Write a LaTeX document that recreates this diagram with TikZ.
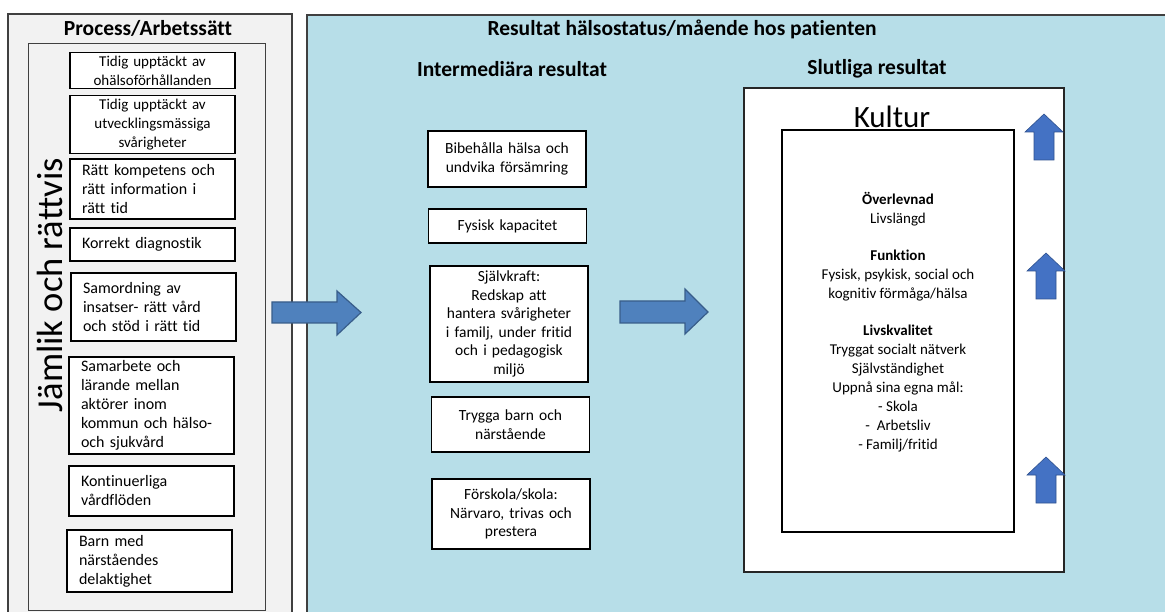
\documentclass[tikz,border=0pt]{standalone}
\usepackage{fontspec}
\setmainfont{Carlito}[Ligatures=NoCommon]
\usetikzlibrary{positioning}
\definecolor{panelgray}{HTML}{F2F2F2}
\definecolor{panelblue}{HTML}{B7DEE8}
\definecolor{arrowfill}{HTML}{4F81BD}
\definecolor{arrowline}{HTML}{385D8A}
\definecolor{upfill}{HTML}{4472C4}
\definecolor{upline}{HTML}{2F528F}
\tikzstyle{panel} = [draw=black!75, line width=1.3pt]
\tikzstyle{stepbox} = [rectangle, draw=black, line width=1.6pt, fill=white, minimum width=165pt, inner xsep=12pt, text width=141pt, align=left, font=\fontsize{16}{19}\selectfont]
\tikzstyle{midbox} = [rectangle, draw=black, line width=1.6pt, fill=white, minimum width=158pt, inner xsep=4pt, text width=150pt, align=center, font=\fontsize{15.5}{18.5}\selectfont]
\tikzstyle{heading} = [font=\bfseries\fontsize{21.5}{24}\selectfont]
\tikzstyle{bigarrow} = [fill=arrowfill, draw=arrowline, line width=1.2pt, line join=miter]
\tikzstyle{uparrow} = [fill=upfill, draw=upline, line width=0.6pt]
\begin{document}
\begin{tikzpicture}[x=1pt, y=-1pt]
\useasboundingbox (0,0) rectangle (1165,612);
\clip (0,0) rectangle (1165,612);

\draw [panel, fill=panelgray] (8,14) rectangle (292,640);
\draw [draw=black!75, line width=1pt, fill=panelgray] (28,44) rectangle (265,610);
\draw [panel, fill=panelblue] (307,15) rectangle (1190,640);

\node (proctitle) [heading] at (148,28) {Process/Arbetssätt};
\node (restitle) [heading] at (682,29) {Resultat hälsostatus/mående hos patienten};
\node (midtitle) [heading] at (512,69) {Intermediära resultat};
\node (endtitle) [heading] at (877,69) {Slutliga resultat};

\node (jamlik) [rotate=90, anchor=base, font=\fontsize{36.5}{40}\selectfont] at (62,285) {Jämlik och rättvis};

\node (early1) [stepbox, align=center, minimum height=35pt, font=\fontsize{15}{19}\selectfont] at (152.5,70.5) {Tidig upptäckt av\\ ohälsoförhållanden};
\node (early2) [stepbox, align=center, minimum height=53pt, font=\fontsize{15}{19}\selectfont] at (152.5,124.5) {Tidig upptäckt av\\ utvecklingsmässiga\\ svårigheter};
\node (skill) [stepbox, minimum height=60pt] at (152.5,189) {Rätt kompetens och\\ rätt information i\\ rätt tid};
\node (diag) [stepbox, minimum height=33pt] at (152.5,244.5) {Korrekt diagnostik};
\node (coord) [stepbox, minimum height=68pt] at (153.5,307) {Samordning av\\ insatser- rätt vård\\ och stöd i rätt tid};
\node (collab) [stepbox, minimum height=95pt] at (151.5,405.5) {Samarbete och\\ lärande mellan\\ aktörer inom\\ kommun och hälso-\\ och sjukvård};
\node (flow) [stepbox, minimum height=50pt] at (151.5,491) {Kontinuerliga\\ vårdflöden};
\node (family) [stepbox, minimum height=62pt] at (149.5,561) {Barn med\\ närståendes\\ delaktighet};

\node (health) [midbox, minimum height=56pt] at (507,159) {Bibehålla hälsa och\\ undvika försämring};
\node (physical) [midbox, minimum height=34pt] at (507.5,226) {Fysisk kapacitet};
\node (selfpower) [midbox, minimum height=116pt] at (509,324) {Självkraft:\\ Redskap att\\ hantera svårigheter\\ i familj, under fritid\\ och i pedagogisk\\ miljö};
\node (safe) [midbox, minimum height=55pt] at (510.5,424.5) {Trygga barn och\\ närstående};
\node (school) [midbox, minimum height=70pt] at (511,514) {Förskola/skola:\\ Närvaro, trivas och\\ prestera};

\node (culture) [rectangle, draw=black!85, line width=1.3pt, fill=white, minimum width=320pt, minimum height=484pt] at (904,330) {};
\node (kultur) [font=\fontsize{31}{36}\selectfont] at (892,117) {Kultur};
\node (outcomebox) [rectangle, draw=black, line width=1.8pt, fill=white, minimum width=232pt, minimum height=402pt] at (898,331) {};
\node (outcome) [align=center, font=\fontsize{15}{19}\selectfont] at (898,322) {\textbf{Överlevnad}\\ Livslängd\\[18pt] \textbf{Funktion}\\ Fysisk, psykisk, social och\\ kognitiv förmåga/hälsa\\[18pt] \textbf{Livskvalitet}\\ Tryggat socialt nätverk\\ Självständighet\\ Uppnå sina egna mål:\\ - Skola\\ -\ \ Arbetsliv\\ - Familj/fritid};

\draw [bigarrow] (272,302) -- (337,302) -- (337,291) -- (361,312.5) -- (337,335) -- (337,323) -- (272,323) -- cycle;
\draw [bigarrow] (620,301) -- (685,301) -- (685,289) -- (708,312) -- (685,334) -- (685,323) -- (620,323) -- cycle;

\foreach \cx/\ty in {1044/114, 1046/253, 1046/457}
  \draw [uparrow] (\cx,\ty) -- ++(19,18) -- ++(-9,0) -- ++(0,28) -- ++(-20,0) -- ++(0,-28) -- ++(-9,0) -- cycle;

\end{tikzpicture}
\end{document}
